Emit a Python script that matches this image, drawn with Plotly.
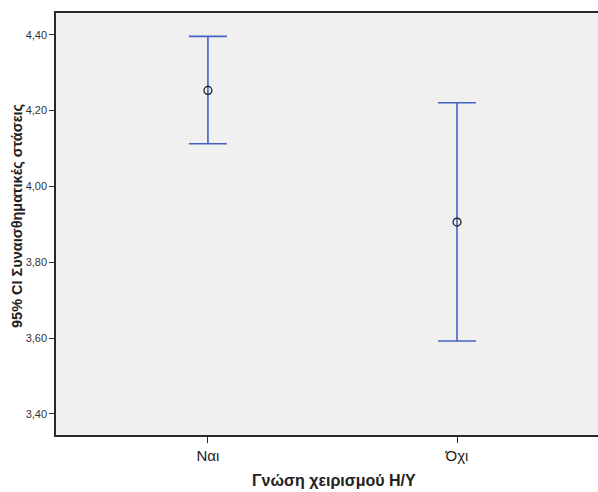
import plotly.graph_objects as go

categories = ["Ναι", "Όχι"]
means = [4.253, 3.906]
upper = [4.3955, 4.2207]
lower = [4.1126, 3.5925]
ytick_vals = [3.40, 3.60, 3.80, 4.00, 4.20, 4.40]
ytick_text = ["3,40", "3,60", "3,80", "4,00", "4,20", "4,40"]
x_title = "Γνώση χειρισμού Η/Υ"
y_title = "95% CI Συναισθηματικές στάσεις"

err_plus = [u - m for u, m in zip(upper, means)]
err_minus = [m - l for m, l in zip(means, lower)]

W, H = 598, 492
ML, MR, MT, MB = 56, 0, 13, 57
PW, PH = W - ML - MR, H - MT - MB

fig = go.Figure()
fig.add_trace(go.Scatter(
    x=[0, 1], y=means, mode="markers",
    marker=dict(symbol="circle-open", size=8, color="#1a1a1a", line=dict(width=1.2, color="#1a1a1a")),
    error_y=dict(type="data", symmetric=False, array=err_plus, arrayminus=err_minus,
                 color="#4462c2", thickness=1.6, width=19),
    showlegend=False, hoverinfo="skip",
))

fig.update_layout(
    width=W, height=H,
    margin=dict(l=ML, r=MR, t=MT, b=MB, autoexpand=False),
    paper_bgcolor="white", plot_bgcolor="#f0f0f0",
    font=dict(family="Liberation Sans, Arial, sans-serif", color="#222"),
    xaxis=dict(
        range=[-0.61, 1.566], tickvals=[0, 1], ticktext=categories,
        showgrid=False, zeroline=False, automargin=False,
        showline=True, linecolor="#2a2a2a", linewidth=1.5, mirror=True,
        ticks="outside", ticklen=6, tickcolor="#2a2a2a", tickwidth=1,
        tickfont=dict(size=15, color="#222"),
    ),
    yaxis=dict(
        range=[3.3446, 4.4572], tickvals=ytick_vals, ticktext=ytick_text,
        showgrid=False, zeroline=False, automargin=False,
        showline=True, linecolor="#2a2a2a", linewidth=1.5,
        ticks="outside", ticklen=5, tickcolor="#2a2a2a", tickwidth=1,
        tickfont=dict(size=11, color="#333"),
    ),
    annotations=[
        dict(text="<b>" + x_title + "</b>", xref="paper", yref="paper",
             x=(334 - ML) / PW, y=(H - MB - 491) / PH, xanchor="center", yanchor="bottom",
             showarrow=False, font=dict(size=16, color="#222")),
        dict(text="<b>" + y_title + "</b>", xref="paper", yref="paper",
             x=(17 - ML) / PW, y=(H - MB - 216) / PH, xanchor="center", yanchor="middle",
             textangle=-90, showarrow=False, font=dict(size=14.5, color="#222")),
    ],
)

fig.write_html("out.html", config={"displayModeBar": False},
               post_script="document.body.style.margin='0';document.body.style.padding='0';")
